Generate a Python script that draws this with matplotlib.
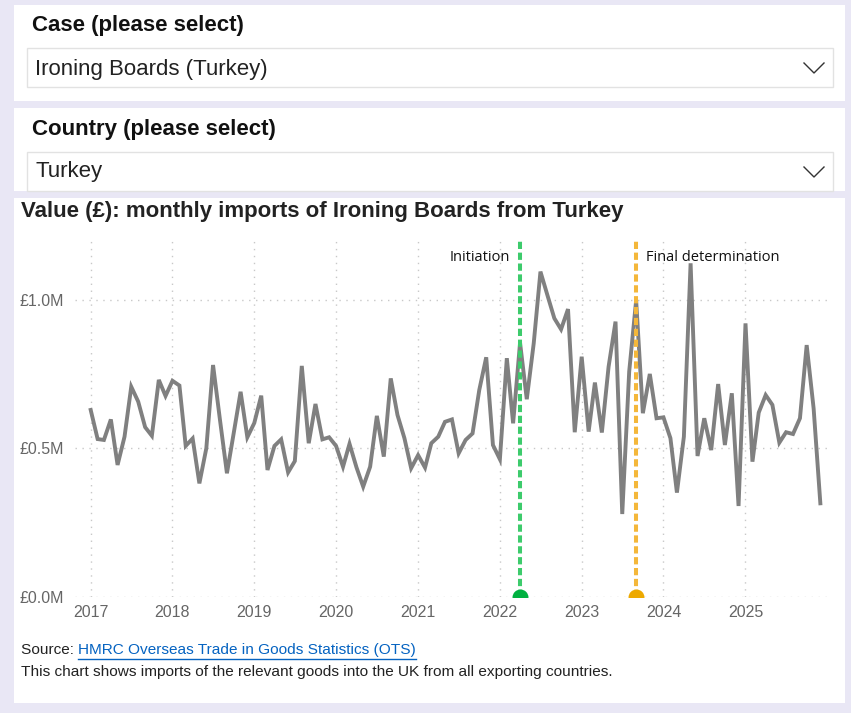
import pandas as pd
import matplotlib.pyplot as plt
import matplotlib.dates as mdates
from matplotlib.patches import Rectangle
from matplotlib.lines import Line2D
from matplotlib.ticker import FuncFormatter

W, H = 851, 713

# monthly values (£M), Jan 2017 - Dec 2025
values = [
    0.629, 0.531, 0.528, 0.597, 0.444, 0.539, 0.707, 0.657, 0.571, 0.542, 0.730, 0.676,
    0.727, 0.711, 0.508, 0.533, 0.382, 0.500, 0.780, 0.595, 0.416, 0.550, 0.690, 0.537,
    0.585, 0.677, 0.427, 0.508, 0.530, 0.419, 0.457, 0.777, 0.517, 0.649, 0.530, 0.537,
    0.508, 0.438, 0.515, 0.436, 0.371, 0.438, 0.609, 0.472, 0.735, 0.612, 0.534, 0.433,
    0.477, 0.435, 0.517, 0.539, 0.589, 0.597, 0.483, 0.528, 0.550, 0.696, 0.806, 0.511,
    0.463, 0.803, 0.584, 0.855, 0.665, 0.853, 1.094, 1.015, 0.937, 0.900, 0.968, 0.554,
    0.808, 0.556, 0.721, 0.553, 0.774, 0.926, 0.279, 0.758, 0.997, 0.618, 0.750, 0.601,
    0.604, 0.534, 0.351, 0.539, 1.122, 0.474, 0.601, 0.494, 0.716, 0.511, 0.685, 0.306,
    0.920, 0.455, 0.620, 0.679, 0.646, 0.519, 0.554, 0.548, 0.601, 0.847, 0.634, 0.315,
]
months = pd.date_range("2017-01-01", periods=len(values), freq="MS")
years = list(range(2017, 2026))
y_ticks = [0.0, 0.5, 1.0]

events = ["Initiation", "Final determination"]
event_dates = [pd.Timestamp("2022-04-01"), pd.Timestamp("2023-09-01")]
event_line_colors = ["#3DCB6C", "#F4B73A"]
event_dot_colors = ["#00B140", "#EDA900"]

case_title = "Case (please select)"
case_value = "Ironing Boards (Turkey)"
country_title = "Country (please select)"
country_value = "Turkey"
chart_title = "Value (£): monthly imports of Ironing Boards from Turkey"
source_label = "Source: "
source_link = "HMRC Overseas Trade in Goods Statistics (OTS)"
note = "This chart shows imports of the relevant goods into the UK from all exporting countries."


def fx(x):
    return x / W


def fy(y):
    return 1 - y / H


fig = plt.figure(figsize=(W / 100, H / 100), dpi=100)
fig.patch.set_facecolor("#E9E7F5")
plt.rcParams["font.family"] = ["Liberation Sans", "DejaVu Sans"]


def rect(x0, y0, x1, y1, fc="white", ec="none", lw=0):
    r = Rectangle((fx(x0), fy(y1)), fx(x1) - fx(x0), fy(y0) - fy(y1),
                  transform=fig.transFigure, facecolor=fc, edgecolor=ec,
                  linewidth=lw, zorder=0)
    fig.patches.append(r)


def chevron(x0, x1, y0, y1):
    xm = (x0 + x1) / 2
    fig.lines.append(Line2D([fx(x0), fx(xm), fx(x1)], [fy(y0), fy(y1), fy(y0)],
                            transform=fig.transFigure, color="#333333", lw=1.0))


# panels
rect(14, 5, 845, 101)
rect(14, 108, 845, 191)
rect(14, 198, 845, 703)

# dropdowns
rect(27, 47.5, 833, 87, fc="white", ec="#E2E2E2", lw=1)
rect(27, 152, 833, 191, fc="white", ec="#E2E2E2", lw=1)
chevron(804, 824, 63, 73)
chevron(804, 824, 167, 177)

fig.text(fx(32), fy(25), case_title, fontsize=16, fontweight="bold", va="center", color="#111111")
fig.text(fx(35), fy(69), case_value, fontsize=16, va="center", color="#222222")
fig.text(fx(32), fy(129), country_title, fontsize=16, fontweight="bold", va="center", color="#111111")
fig.text(fx(35), fy(172), country_value, fontsize=16, va="center", color="#222222")
fig.text(fx(21), fy(211), chart_title, fontsize=16, fontweight="bold", va="center", color="#222222")

# chart
ax = fig.add_axes([fx(75), fy(597), fx(832) - fx(75), fy(240.1) - fy(597)])
ax.set_zorder(2)
ax.set_facecolor("none")
ax.plot(months, values, color="#808080", lw=2.8, solid_joinstyle="miter", zorder=3)

ax.set_ylim(0, 1.2)
ax.set_xlim(pd.Timestamp("2016-10-23"), pd.Timestamp("2026-01-22"))
ax.set_xticks([pd.Timestamp(f"{y}-01-01") for y in years])
ax.xaxis.set_major_formatter(mdates.DateFormatter("%Y"))
ax.set_yticks(y_ticks)
ax.yaxis.set_major_formatter(FuncFormatter(lambda v, p: f"£{v:.1f}M"))
ax.tick_params(length=0, labelsize=11.5, labelcolor="#666666")
ax.tick_params(axis="x", pad=6)
ax.tick_params(axis="y", pad=8)
for s in ax.spines.values():
    s.set_visible(False)
ax.grid(True, color="#C8C8C8", lw=1, linestyle=(0, (1, 4)))
ax.set_axisbelow(True)

for name, d, lc, dc in zip(events, event_dates, event_line_colors, event_dot_colors):
    ax.axvline(d, color=lc, lw=2.9, linestyle=(0, (1.8, 0.9)), dash_capstyle="butt", zorder=4)
    ax.scatter([d], [0], s=110, color=dc, zorder=5, clip_on=True)

ax.text(event_dates[0] - pd.Timedelta(days=45), 1.14, events[0], ha="right", va="center",
        fontsize=10.5, family=["Open Sans", "DejaVu Sans"], color="#111111")
ax.text(event_dates[1] + pd.Timedelta(days=45), 1.14, events[1], ha="left", va="center",
        fontsize=10.5, family=["Open Sans", "DejaVu Sans"], color="#111111")

# source lines
t1 = fig.text(fx(21), fy(650), source_label, fontsize=11.1, va="center", color="#222222")
fig.canvas.draw()
bb = t1.get_window_extent()
t2 = fig.text(bb.x1 / W, fy(650), source_link, fontsize=11.1, va="center", color="#0563C1")
fig.canvas.draw()
bb2 = t2.get_window_extent()
fig.lines.append(Line2D([bb2.x0 / W, bb2.x1 / W], [fy(658.5), fy(658.5)],
                        transform=fig.transFigure, color="#0563C1", lw=1))
fig.text(fx(21), fy(672), note, fontsize=11.1, va="center", color="#222222")

fig.savefig("out.png", dpi=100, facecolor=fig.get_facecolor())
